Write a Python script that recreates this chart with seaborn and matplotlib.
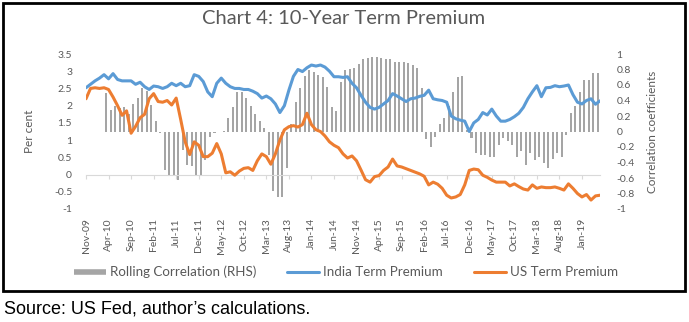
import numpy as np
import pandas as pd
import matplotlib
matplotlib.use("Agg")
import matplotlib.pyplot as plt
import seaborn as sns
from matplotlib.patches import Rectangle
from matplotlib.lines import Line2D

# ---------------- data ----------------
months = pd.date_range("2009-11-01", periods=115, freq="MS")   # Nov-09 .. May-19

india_tp = [2.52, 2.62, 2.72, 2.80, 2.90, 2.78, 2.93, 2.76, 2.72, 2.72,
            2.72, 2.62, 2.68, 2.55, 2.47, 2.57, 2.55, 2.50, 2.55, 2.65,
            2.58, 2.65, 2.55, 2.58, 2.90, 2.85, 2.70, 2.40, 2.26, 2.65,
            2.80, 2.65, 2.55, 2.50, 2.50, 2.47, 2.47, 2.42, 2.35, 2.22,
            2.28, 2.20, 2.05, 1.80, 2.00, 2.45, 2.85, 3.05, 2.99, 3.10,
            3.18, 3.15, 3.18, 3.12, 3.00, 2.84, 2.84, 2.82, 2.84, 2.65,
            2.52, 2.30, 2.10, 1.95, 1.90, 1.95, 2.05, 2.15, 2.35, 2.28,
            2.20, 2.12, 2.20, 2.22, 2.27, 2.30, 2.45, 2.20, 2.17, 2.15,
            2.10, 1.70, 1.62, 1.58, 1.55, 1.25, 1.50, 1.60, 1.80, 1.73,
            1.90, 1.70, 1.55, 1.55, 1.60, 1.68, 1.78, 1.95, 2.20, 2.40,
            2.58, 2.26, 2.52, 2.53, 2.58, 2.55, 2.57, 2.60, 2.32, 2.10,
            2.05, 2.15, 2.20, 2.04, 2.14]

us_tp = [2.20, 2.50, 2.52, 2.50, 2.52, 2.47, 2.25, 2.00, 1.72, 1.85,
         1.20, 1.40, 1.65, 1.75, 2.20, 2.35, 2.12, 2.10, 2.15, 2.02,
         2.22, 1.60, 0.95, 0.58, 0.95, 0.85, 0.52, 0.52, 0.62, 0.90,
         0.60, 0.05, 0.08, -0.02, 0.10, 0.18, 0.20, 0.12, 0.40, 0.60,
         0.52, 0.30, 0.60, 1.00, 1.30, 1.39, 1.42, 1.38, 1.45, 1.78,
         1.45, 1.30, 1.25, 1.12, 0.95, 0.85, 0.78, 0.60, 0.48, 0.54,
         0.40, 0.13, -0.15, -0.22, -0.06, -0.03, 0.12, 0.22, 0.45, 0.25,
         0.22, 0.17, 0.12, 0.07, 0.02, -0.05, -0.30, -0.22, -0.28, -0.40,
         -0.60, -0.68, -0.65, -0.58, -0.30, 0.12, 0.16, 0.14, -0.02, -0.08,
         -0.16, -0.22, -0.22, -0.22, -0.33, -0.27, -0.35, -0.42, -0.45, -0.30,
         -0.40, -0.36, -0.38, -0.38, -0.36, -0.40, -0.45, -0.27, -0.40, -0.55,
         -0.65, -0.58, -0.74, -0.62, -0.60]

corr_first_month = 5            # rolling correlation starts at Apr-10
rolling_corr = [0.50, 0.28, 0.33, 0.30, 0.32, 0.23, 0.35, 0.43, 0.56, 0.52,
                0.34, 0.13, -0.02, -0.50, -0.57, -0.58, -0.62, -0.24, -0.43, -0.45,
                -0.58, -0.58, -0.37, -0.07, -0.02, -0.01, 0.01, 0.18, 0.32, 0.51,
                0.51, 0.43, 0.33, 0.23, 0.13, 0.05, -0.30, -0.77, -0.84, -0.84,
                -0.47, 0.10, 0.38, 0.56, 0.71, 0.79, 0.77, 0.73, 0.70, 0.57,
                0.32, 0.27, 0.64, 0.79, 0.81, 0.82, 0.87, 0.93, 0.95, 0.96,
                0.96, 0.95, 0.94, 0.93, 0.90, 0.90, 0.90, 0.89, 0.86, 0.82,
                0.56, -0.10, -0.20, -0.07, 0.10, 0.18, 0.33, 0.51, 0.70, 0.72,
                0.02, -0.09, -0.28, -0.30, -0.30, -0.33, -0.33, -0.17, -0.09, -0.12,
                -0.17, -0.33, -0.25, -0.43, -0.28, -0.37, -0.33, -0.40, -0.47, -0.35,
                -0.28, -0.33, -0.05, 0.24, 0.33, 0.51, 0.66, 0.66, 0.75, 0.75]

tick_labels = ["Nov-09", "Apr-10", "Sep-10", "Feb-11", "Jul-11", "Dec-11",
               "May-12", "Oct-12", "Mar-13", "Aug-13", "Jan-14", "Jun-14",
               "Nov-14", "Apr-15", "Sep-15", "Feb-16", "Jul-16", "Dec-16",
               "May-17", "Oct-17", "Mar-18", "Aug-18", "Jan-19"]

left_ticks = [-1, -0.5, 0, 0.5, 1, 1.5, 2, 2.5, 3, 3.5]
right_ticks = [-1, -0.8, -0.6, -0.4, -0.2, 0, 0.2, 0.4, 0.6, 0.8, 1]

# ---------------- style ----------------
sns.set_theme(style="white")
plt.rcParams["font.family"] = ["Lato", "DejaVu Sans"]
plt.rcParams["axes.unicode_minus"] = False

TXT = "#595959"
BLUE = "#5B9BD5"
ORANGE = "#ED7D31"
GREY = "#A5A5A5"

W, H = 689, 322
fig = plt.figure(figsize=(W / 100, H / 100), dpi=100)
fig.patch.set_facecolor("white")

ax = fig.add_axes([86 / W, 1 - 209 / H, 514 / W, 155 / H])
ax2 = ax.twinx()

t = np.arange(len(months))
df = pd.DataFrame({"t": t, "India": india_tp, "US": us_tp})
cdf = pd.DataFrame({"t": np.arange(corr_first_month, corr_first_month + len(rolling_corr)) - 0.5,
                    "corr": rolling_corr})

# bars on the right axis
sns.barplot(data=cdf, x="t", y="corr", native_scale=True, color=GREY,
            width=0.45, errorbar=None, ax=ax2, saturation=1)
for p in ax2.patches:
    p.set_edgecolor("none")

# lines on the left axis
sns.lineplot(data=df, x="t", y="India", ax=ax, color=BLUE, linewidth=2.2)
sns.lineplot(data=df, x="t", y="US", ax=ax, color=ORANGE, linewidth=2.2)

ax.set_zorder(ax2.get_zorder() + 1)
ax.patch.set_visible(False)

ax.set_xlim(0, len(months) - 1)
ax.set_ylim(-1, 3.5)
ax2.set_ylim(-1, 1)

for a in (ax, ax2):
    for s in a.spines.values():
        s.set_visible(False)

xt = np.arange(0, len(months), 5)[:len(tick_labels)]
ax.set_xticks(xt)
ax.set_xticklabels(tick_labels, rotation=90)
ax.tick_params(axis="x", length=0, pad=6.5, labelsize=7.5, labelcolor=TXT)
ax.set_xlabel("")

ax.set_yticks(left_ticks)
ax.set_yticklabels([f"{v:g}" for v in left_ticks])
ax.tick_params(axis="y", length=0, pad=10, labelsize=7.5, labelcolor=TXT)
ax2.set_yticks(right_ticks)
ax2.set_yticklabels([f"{v:g}" for v in right_ticks])
ax2.tick_params(axis="y", length=0, pad=12, labelsize=7.5, labelcolor=TXT)
ax2.set_xlabel("")

ax.set_ylabel("Per cent", fontsize=8.5, color=TXT)
ax.yaxis.set_label_coords((35 - 86) / 514, 0.5)
ax2.set_ylabel("Correlation coefficients", fontsize=8.5, color=TXT, rotation=90)
ax2.yaxis.set_label_coords((647 - 86) / 514, 0.5)

# category axis line crossing at zero
zero_frac = (0 - (-1)) / (3.5 - (-1))
sec = ax.secondary_xaxis(zero_frac)
sec.set_xticks(xt, labels=[""] * len(xt))
sec.tick_params(axis="x", length=3, width=0.8, color="#D9D9D9")
for s in sec.spines.values():
    s.set_color("#D9D9D9")
    s.set_linewidth(0.8)

# title
fig.text(344 / W, 1 - 19 / H, "Chart 4: 10-Year Term Premium", ha="center", va="center",
         fontsize=14.5, color=TXT)

# legend
handles = [Line2D([], [], color=GREY, lw=4, solid_capstyle="butt"),
           Line2D([], [], color=BLUE, lw=2.2),
           Line2D([], [], color=ORANGE, lw=2.2)]
labels = ["Rolling Correlation (RHS)", "India Term Premium", "US Term Premium"]
fig.legend(handles, labels, ncol=3, loc="center", bbox_to_anchor=(346 / W, 1 - 272 / H),
           frameon=False, fontsize=9.6, labelcolor=TXT, handlelength=2.4,
           handletextpad=0.3, columnspacing=2.3)

# frame around the chart
fig.add_artist(Rectangle((3 / W, 1 - 291 / H), (685 - 3) / W, (291 - 3) / H,
                         transform=fig.transFigure, fill=False, lw=2, ec="black"))

# source line
fig.text(4 / W, 1 - 309 / H, "Source: US Fed, author\u2019s calculations.",
         ha="left", va="center", fontsize=13, color="black",
         family=["Liberation Sans", "DejaVu Sans"])

fig.savefig("out.png", dpi=100)
